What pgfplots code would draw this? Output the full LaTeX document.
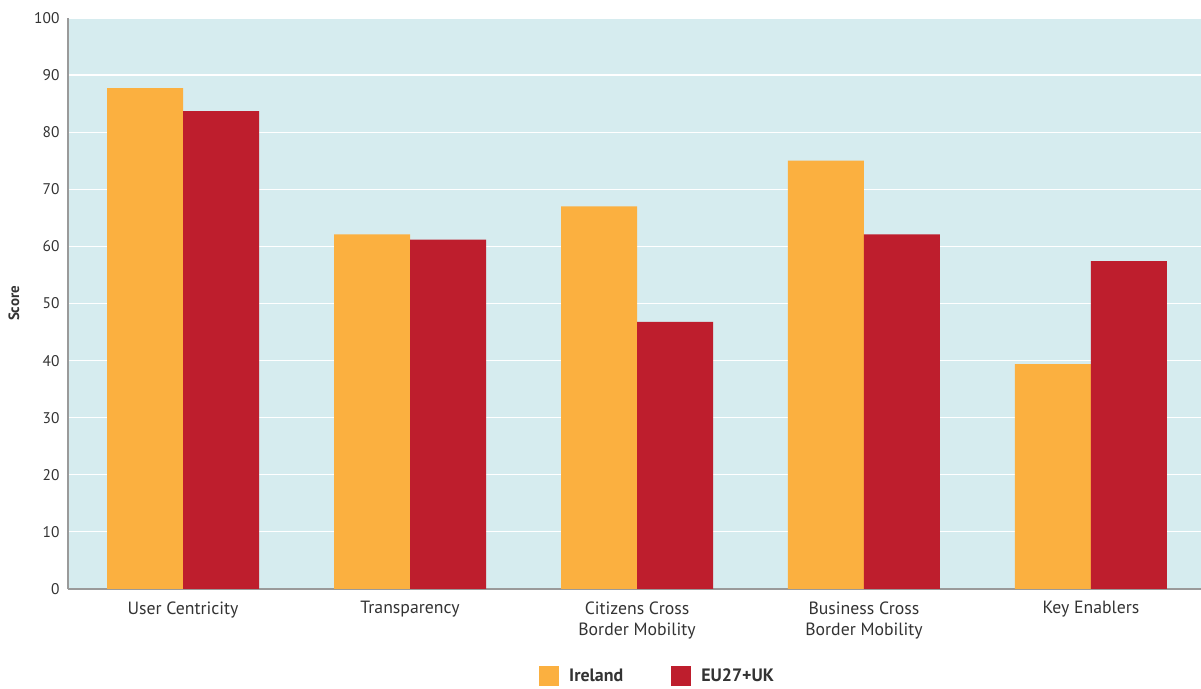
\documentclass[border=0pt]{standalone}
\usepackage{fontspec}
\setmainfont{PT Sans}
\usepackage{pgfplots}
\pgfplotsset{compat=1.18}
\definecolor{bgc}{HTML}{D6ECEF}
\definecolor{ire}{HTML}{FBB040}
\definecolor{eu}{HTML}{BE1E2D}
\definecolor{axc}{HTML}{9A9A9A}
\definecolor{txt}{HTML}{333333}
\begin{document}
\begin{tikzpicture}
\useasboundingbox (0,0) rectangle (1201bp,689bp);
\begin{axis}[
  at={(68bp,100bp)}, anchor=south west,
  scale only axis, width=1133bp, height=571bp,
  ybar=0pt, bar width=76bp,
  xmin=-0.507, xmax=4.485, ymin=0, ymax=100,
  ytick={0,10,...,100},
  xtick={0,1,2,3,4},
  xticklabels={User Centricity, Transparency, {Citizens Cross\\Border Mobility}, {Business Cross\\Border Mobility}, Key Enablers},
  xticklabel style={align=center, font=\fontsize{17.8}{21}\selectfont, text=txt, yshift=-9bp},
  yticklabel style={font=\fontsize{15.5}{18}\selectfont, text=txt, xshift=-5bp},
  /pgf/number format/assume math mode=true,
  major tick length=0pt,
  axis x line*=bottom, axis y line*=left,
  axis line style={axc, line width=1.5bp},
  axis background/.style={fill=bgc},
  ymajorgrids, grid style={white, line width=1.2bp},
  ylabel={\textbf{Score}},
  ylabel style={at={(axis description cs:-0.0477,0.5)}, anchor=center, font=\fontsize{15}{18}\selectfont, text=txt},
  legend columns=2,
  legend style={draw=none, fill=none, inner sep=0pt, at={(axis description cs:0.4157,-0.152)}, anchor=west, font=\fontsize{18}{20}\selectfont\bfseries, text=txt, /tikz/every even column/.append style={column sep=46bp}},
  legend image code/.code={\fill[#1, draw=none] (0bp,-10bp) rectangle (20bp,10bp); \path (28bp,0bp);},
]
\addplot[fill=ire, draw=none] coordinates {(0,87.7) (1,62.1) (2,67.0) (3,75.0) (4,39.4)};
\addplot[fill=eu, draw=none] coordinates {(0,83.7) (1,61.2) (2,46.8) (3,62.1) (4,57.4)};
\legend{Ireland, EU27+UK}
\end{axis}
\end{tikzpicture}
\end{document}
